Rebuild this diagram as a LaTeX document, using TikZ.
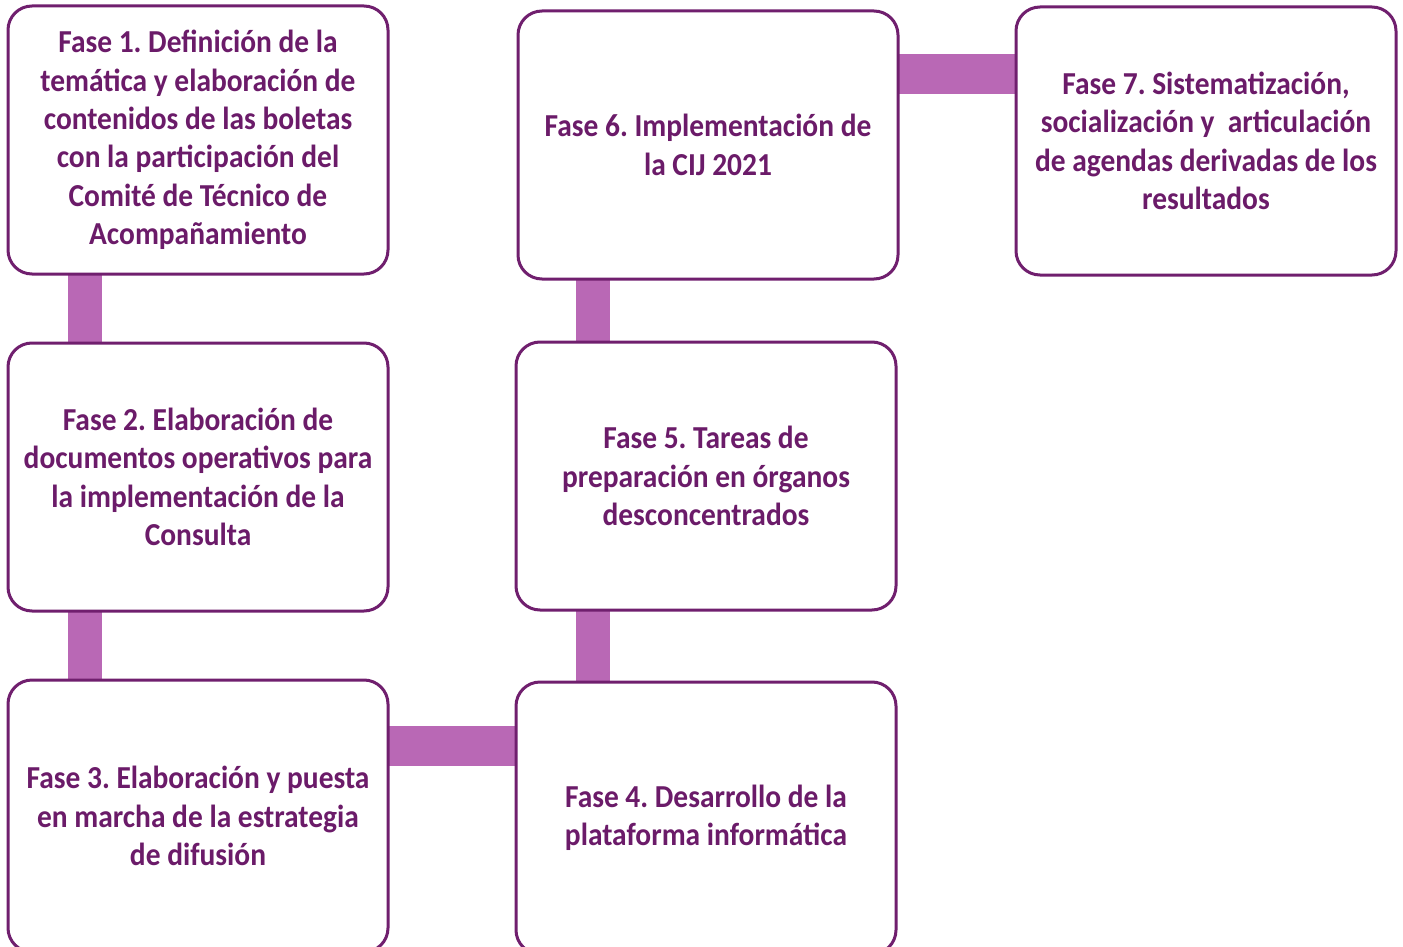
\documentclass[tikz,border=0pt]{standalone}
\usepackage{fontspec}
\setmainfont[FakeStretch=0.92]{Carlito}
\usetikzlibrary{positioning,backgrounds}
\definecolor{borde}{HTML}{701F6E}
\definecolor{texto}{HTML}{6B1B69}
\definecolor{barra}{HTML}{B968B5}
\frenchspacing
\begin{document}
\begin{tikzpicture}
	[main/.style = {draw=borde, line width=1.5pt, rounded corners=12pt, fill=white,
		minimum width=190pt, minimum height=134pt, outer sep=0pt, inner sep=0pt,
		align=center, text=texto, font=\bfseries\fontsize{16}{19.2}\selectfont},
	tall/.style = {main, minimum height=136pt},
	vbar/.style = {barra, line width=17pt},
	hbar/.style = {barra, line width=20pt}] 
\useasboundingbox (0,0) rectangle (701.5pt,-473.5pt);
\node[main] (1) at (99pt,-70pt) {Fase 1. Definición de la\\temática y elaboración de\\contenidos de las boletas\\con la participación del\\Comité de Técnico de\\Acompañamiento}; 
\node[main] (2) [below=34.5pt of 1] {Fase 2. Elaboración de\\documentos operativos para\\la implementación de la\\Consulta}; 
\node[tall] (3) [below=34.5pt of 2] {Fase 3. Elaboración y puesta\\en marcha de la estrategia\\de difusión}; 
\node[tall] (4) [right=64pt of 3, yshift=-1pt] {Fase 4. Desarrollo de la\\plataforma informática}; 
\node[main] (5) [above=36pt of 4] {Fase 5. Tareas de\\preparación en órganos\\desconcentrados}; 
\node[main] (6) [above=31.5pt of 5, xshift=1pt] {Fase 6. Implementación de\\la CIJ 2021}; 
\node[main] (7) [right=59pt of 6, yshift=2pt] {Fase 7. Sistematización,\\socialización y~ articulación\\de agendas derivadas de los\\resultados}; 
\begin{scope}[on background layer]
\draw[vbar] ([xshift=38.5pt]1.south west) -- ([xshift=38.5pt]2.north west); 
\draw[vbar] ([xshift=38.5pt]2.south west) -- ([xshift=38.5pt]3.north west); 
\draw[hbar] ([yshift=-33pt]3.north east) -- ([yshift=-33pt]3.north east -| 4.west); 
\draw[vbar] ([xshift=38.5pt]4.north west) -- ([xshift=38.5pt]5.south west); 
\draw[vbar] ([xshift=38.5pt]5.north west) -- ([xshift=38.5pt]5.north west |- 6.south); 
\draw[hbar] ([yshift=-31.5pt]6.north east) -- ([yshift=-31.5pt]6.north east -| 7.west); 
\end{scope}
\end{tikzpicture}
\end{document}
